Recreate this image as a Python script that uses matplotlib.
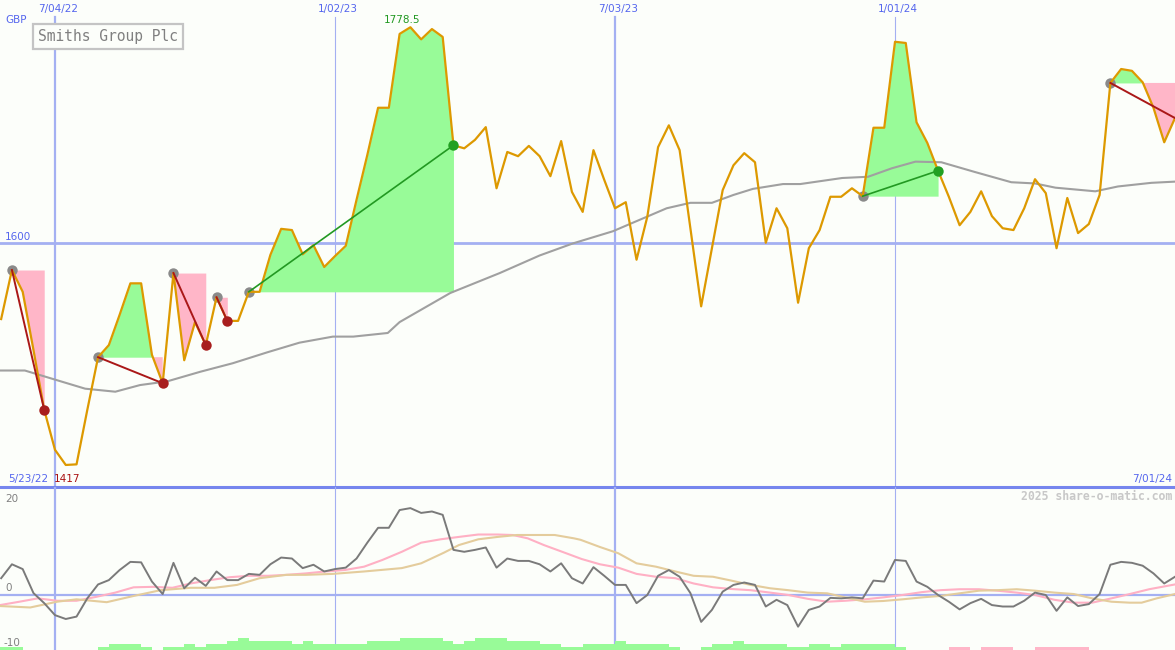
import numpy as np
import matplotlib
matplotlib.use('Agg')
import matplotlib.pyplot as plt

# weekly closes (GBP), week 0 = first bar on the chart
price = [1537.5, 1578, 1560, 1512, 1462.5, 1429.5, 1417, 1417.5, 1462.5, 1506,
         1516, 1541, 1567, 1567, 1508, 1484.5, 1575.5, 1503.5, 1535, 1516,
         1555.5, 1536, 1536, 1560, 1560, 1590.5, 1612, 1611, 1591, 1598.5,
         1580.5, 1589.5, 1598, 1636, 1673, 1712, 1712, 1773, 1778.5, 1768.5,
         1777, 1770.5, 1681, 1678.5, 1685.5, 1696, 1645.5, 1675.5, 1672, 1680.5,
         1672, 1655.5, 1684.5, 1642.5, 1626, 1677, 1652.5, 1629, 1634, 1586.5,
         1622, 1679.5, 1697.5, 1677, 1612.5, 1548, 1596, 1644, 1664.5, 1674.5,
         1667, 1600.5, 1629, 1612.5, 1551, 1596, 1611, 1638.5, 1638.5, 1645.5,
         1639, 1695.5, 1695.5, 1766.5, 1765.5, 1700, 1683, 1660, 1638.5, 1615,
         1626, 1643, 1622.5, 1612.5, 1611, 1629, 1653, 1641.5, 1596, 1637.5,
         1608.5, 1616, 1640, 1732.5, 1744, 1742.5, 1733, 1712, 1683.5, 1703.5]

# slow moving average
ma_week = [-0.1, 2.2, 7.8, 10.6, 12.9, 15.4, 18.5, 21.5, 24.7, 27.7,
           30.8, 32.7, 35.9, 37.0, 41.7, 46.3, 50.0, 53.1, 56.8, 61.8,
           64.0, 66.0, 68.0, 69.8, 72.6, 74.2, 78.1, 80.5, 82.7, 84.9,
           87.3, 90.4, 93.8, 96.0, 97.9, 101.6, 103.7, 106.8, 109.0]
ma_val = [1495, 1495, 1480, 1477.5, 1483, 1486, 1494, 1501, 1510, 1518,
          1523, 1523, 1526, 1535, 1559, 1575.5, 1590, 1600, 1610, 1629,
          1633.5, 1633.5, 1640, 1645, 1649, 1649, 1654, 1655, 1662, 1667.5,
          1667, 1659, 1650.5, 1649.5, 1646, 1643, 1647, 1650, 1651]

# signals: start week, end week (last one still open)
sig_start = [1, 9, 16, 20, 23, 80, 103]
sig_end = [4, 15, 19, 21, 42, 87, 109]
sig_open = [False, False, False, False, False, False, True]

# lower panel oscillator (weekly)
osc = [3.5, 6.4, 5.4, 0.4, -1.7, -4.2, -5.0, -4.5, -0.7, 2.2,
       3.1, 5.2, 6.9, 6.8, 2.8, 0.2, 6.7, 1.4, 3.6, 1.9,
       4.9, 3.1, 3.1, 4.4, 4.2, 6.4, 7.8, 7.6, 5.6, 6.3,
       4.9, 5.4, 5.7, 7.6, 10.9, 14.0, 14.0, 17.7, 18.1, 17.1,
       17.4, 16.7, 9.4, 9.0, 9.4, 9.9, 5.7, 7.6, 7.1, 7.1,
       6.4, 4.9, 6.6, 3.5, 2.4, 5.8, 4.0, 2.1, 2.1, -1.7,
       0.0, 4.0, 5.2, 3.8, 0.4, -5.6, -3.1, 0.7, 2.1, 2.6,
       2.1, -2.4, -1.0, -2.1, -6.6, -3.1, -2.4, -0.6, -0.7, -0.5,
       -0.7, 3.0, 2.8, 7.3, 7.1, 2.8, 1.7, 0.0, -1.4, -3.0,
       -1.7, -0.8, -2.1, -2.4, -2.4, -1.2, 0.5, 0.0, -3.3, -0.5,
       -2.3, -1.9, 0.2, 6.3, 6.9, 6.7, 6.1, 4.5, 2.4, 3.8]

pink_week = [-0.1, 1.7, 3.4, 5.2, 7.0, 8.8, 10.6, 12.3, 14.1, 15.9,
             17.6, 19.4, 21.2, 23.0, 24.8, 26.5, 28.3, 30.1, 31.9, 33.7,
             35.4, 37.2, 39.0, 40.8, 42.5, 44.3, 46.1, 47.5, 48.9, 50.4,
             52.1, 53.9, 55.6, 57.3, 59.0, 60.8, 62.6, 64.3, 66.1, 67.8,
             69.6, 71.4, 73.1, 74.9, 76.7, 78.4, 80.2, 81.9, 83.7, 85.5,
             87.2, 89.0, 90.8, 92.5, 94.3, 96.0, 97.8, 99.6, 101.3, 103.1,
             104.8, 106.6, 109.0]
pink_val = [-2.1, -1.4, -0.7, -1.2, -1.2, -0.4, 0.5, 1.6, 1.7, 1.5,
            2.4, 3.1, 3.7, 4.0, 4.0, 4.2, 4.5, 4.9, 5.2, 5.9,
            7.3, 9.0, 10.9, 11.6, 12.1, 12.6, 12.6, 12.5, 11.8, 10.4,
            9.0, 7.5, 6.4, 5.7, 4.4, 3.8, 3.5, 2.4, 1.6, 1.25,
            1.0, 0.5, 0.0, -0.8, -1.4, -1.2, -0.9, -0.5, 0.0, 0.6,
            1.0, 1.2, 1.2, 0.9, 0.5, 0.0, -1.0, -1.6, -1.6, -0.7,
            0.2, 1.2, 2.2]

tan_week = [-0.1, 2.7, 5.2, 7.0, 9.8, 12.3, 14.8, 17.6, 19.8, 21.9,
            24.0, 26.5, 28.3, 30.8, 33.7, 37.2, 39.0, 41.1, 42.5, 44.3,
            46.1, 47.9, 49.6, 51.4, 53.2, 53.8, 55.6, 57.3, 59.0, 60.8,
            62.6, 64.3, 66.1, 67.8, 69.6, 71.4, 73.1, 74.9, 76.7, 78.4,
            80.2, 81.9, 83.7, 85.5, 87.2, 89.0, 90.8, 92.5, 94.3, 96.0,
            97.8, 99.6, 101.3, 103.1, 104.8, 105.9, 107.3, 109.0]
tan_val = [-2.3, -2.6, -1.4, -0.9, -1.5, -0.2, 1.0, 1.5, 1.5, 2.1,
           3.5, 4.2, 4.2, 4.4, 4.9, 5.6, 6.6, 8.8, 10.4, 11.6,
           12.1, 12.5, 12.5, 12.5, 11.8, 11.5, 10.0, 8.7, 6.6, 5.9,
           4.9, 4.0, 3.8, 3.0, 2.1, 1.4, 1.0, 0.5, 0.35, -0.5,
           -1.4, -1.25, -0.9, -0.5, -0.2, 0.35, 0.9, 1.0, 1.2, 0.9,
           0.5, 0.2, -0.7, -1.4, -1.6, -1.6, -0.7, 0.2]

# strength bars along the bottom, one per week starting at week -1 (negative = pink)
bar_first = -1
bar_level = [1, 1, 1, 0, 0, 0, 0, 0, 0, 0, 1, 2, 2, 2, 1, 0, 1, 1, 2, 1,
             2, 2, 3, 4, 3, 3, 3, 3, 2, 3, 2, 2, 2, 2, 2, 3, 3, 3, 4, 4,
             4, 4, 3, 2, 3, 4, 4, 4, 3, 3, 3, 2, 2, 1, 1, 2, 2, 2, 3, 2,
             2, 2, 2, 1, 0, 0, 1, 2, 2, 3, 2, 2, 2, 2, 1, 1, 2, 2, 1, 2,
             2, 2, 2, 2, 1, 0, 0, 0, 0, -1, -1, 0, -1, -1, -1, 0, 0, -1, -1, -1,
             -1, -1, 0, 0, 0, 0, 0, 0, 0, 0]

tick_week = [5, 31, 57, 83]
tick_label = ['7/04/22', '1/02/23', '7/03/23', '1/01/24']
tick_major = [True, False, True, False]

bg = '#fcfefa'
grid_blue = '#a4b0f2'
text_blue = '#5566ee'
up_fill = '#98fb98'
down_fill = '#ffb6c8'

weeks = np.arange(len(price))
price = np.array(price)

fig = plt.figure(figsize=(11.75, 6.5), dpi=100)
fig.patch.set_facecolor(bg)
ax = fig.add_axes([0, 163 / 650, 1, 487 / 650])
ax2 = fig.add_axes([0, 0, 1, 163 / 650])
for a in (ax, ax2):
    a.set_facecolor('none')
    a.set_xlim(-0.107, 109.0)
    a.set_xticks([])
    a.set_yticks([])
    for s in a.spines.values():
        s.set_visible(False)
ax.set_ylim(1398.8, 1801.0)
ax2.set_ylim(-11.46, 22.5)

# grid
for wk, major in zip(tick_week, tick_major):
    lw = 1.6 if major else 0.8
    ax.axvline(wk, ymin=0, ymax=1 - 17 / 487, color=grid_blue, lw=lw, zorder=1)
    ax2.axvline(wk, color=grid_blue, lw=lw, zorder=1)
ax.axhline(1600, color=grid_blue, lw=2.0, zorder=1)
ax.axhline(ax.get_ylim()[0], color='#7686ee', lw=2.2, zorder=8, clip_on=False)
ax2.axhline(0, color=grid_blue, lw=1.6, zorder=1)

# signal shading, lines and markers
for s, e, still_open in zip(sig_start, sig_end, sig_open):
    xs = weeks[s:e + 1]
    ps = price[s:e + 1]
    level = price[s]
    ax.fill_between(xs, ps, level, where=ps >= level, interpolate=True, color=up_fill, lw=0, zorder=2)
    ax.fill_between(xs, ps, level, where=ps <= level, interpolate=True, color=down_fill, lw=0, zorder=2)
    up = price[e] > price[s]
    lc = '#229922' if up else '#aa1818'
    ax.plot([s, e], [price[s], price[e]], color=lc, lw=1.4 if not up else 1.2, zorder=5)
    ax.plot(s, price[s], 'o', color='#8a8a8a', ms=7.5, mec='none', zorder=3.5)
    if not still_open:
        mc = '#22a022' if up else '#a81e1e'
        ax.plot(e, price[e], 'o', color=mc, ms=7.5, mec='none', zorder=6)

ax.plot(ma_week, ma_val, color='#a0a0a0', lw=1.5, zorder=3)
ax.plot(weeks, price, color='#dd9900', lw=1.6, zorder=4)

# labels on the price panel
for wk, lab in zip(tick_week, tick_label):
    ax.text(wk + 0.25, 1 - 9 / 487, lab, transform=ax.get_xaxis_transform(),
            ha='center', va='center', fontsize=7.5, color=text_blue)
ax.text(5 / 1175, 1 - 20 / 487, 'GBP', transform=ax.transAxes, ha='left', va='center',
        fontsize=7.5, color=text_blue)
ax.text(5 / 1175, 1600 + 1.5, '1600', transform=ax.get_yaxis_transform(), ha='left', va='bottom',
        fontsize=7.5, color=text_blue)
ax.text(8 / 1175, 8 / 487, '5/23/22', transform=ax.transAxes, ha='left', va='center',
        fontsize=7.5, color=text_blue)
ax.text(1172 / 1175, 8 / 487, '7/01/24', transform=ax.transAxes, ha='right', va='center',
        fontsize=7.5, color=text_blue)

kmin = int(np.argmin(price))
kmax = int(np.argmax(price))
ax.annotate('%g' % price[kmin], (kmin, price[kmin]), xytext=(1.2, -10), textcoords='offset points',
            ha='center', va='center', fontsize=7.5, color='#aa1111')
ax.annotate('%g' % price[kmax], (kmax, price[kmax]), xytext=(-5.8, 1.5), textcoords='offset points',
            ha='center', va='bottom', fontsize=7.5, color='#229922')

ax.text(38 / 1175, 1 - 36.5 / 487, 'Smiths Group Plc', transform=ax.transAxes, ha='left', va='center',
        family='DejaVu Sans Mono', fontsize=10.5, color='#808080', zorder=9,
        bbox=dict(boxstyle='square,pad=0.32', fc=bg, ec='#c4c4c4', lw=1.6))

# lower panel
for i, lev in enumerate(bar_level):
    if lev == 0:
        continue
    ax2.bar(bar_first + i, abs(lev) * 0.625, width=1, align='edge', bottom=ax2.get_ylim()[0],
            color=up_fill if lev > 0 else down_fill, lw=0, zorder=2)
ax2.plot(pink_week, pink_val, color='#ffb0c4', lw=1.5, zorder=3)
ax2.plot(tan_week, tan_val, color='#e4cc9c', lw=1.5, zorder=3)
ax2.plot(weeks, osc, color='#7a7a7a', lw=1.4, zorder=4)

ax2.text(5 / 1175, 20, '20', transform=ax2.get_yaxis_transform(), ha='left', va='center',
         fontsize=7.5, color='#808080')
ax2.text(5 / 1175, 0.4, '0', transform=ax2.get_yaxis_transform(), ha='left', va='bottom',
         fontsize=7.5, color='#808080')
ax2.text(4 / 1175, -10, '-10', transform=ax2.get_yaxis_transform(), ha='left', va='center',
         fontsize=7.5, color='#808080')
ax2.text(1172 / 1175, 1 - 9 / 163, '2025 share-o-matic.com', transform=ax2.transAxes,
         ha='right', va='center', family='DejaVu Sans Mono', fontsize=8.3, fontweight='bold',
         color='#c8c8c8')

fig.savefig('out.png', dpi=100, facecolor=bg)
plt.close()
